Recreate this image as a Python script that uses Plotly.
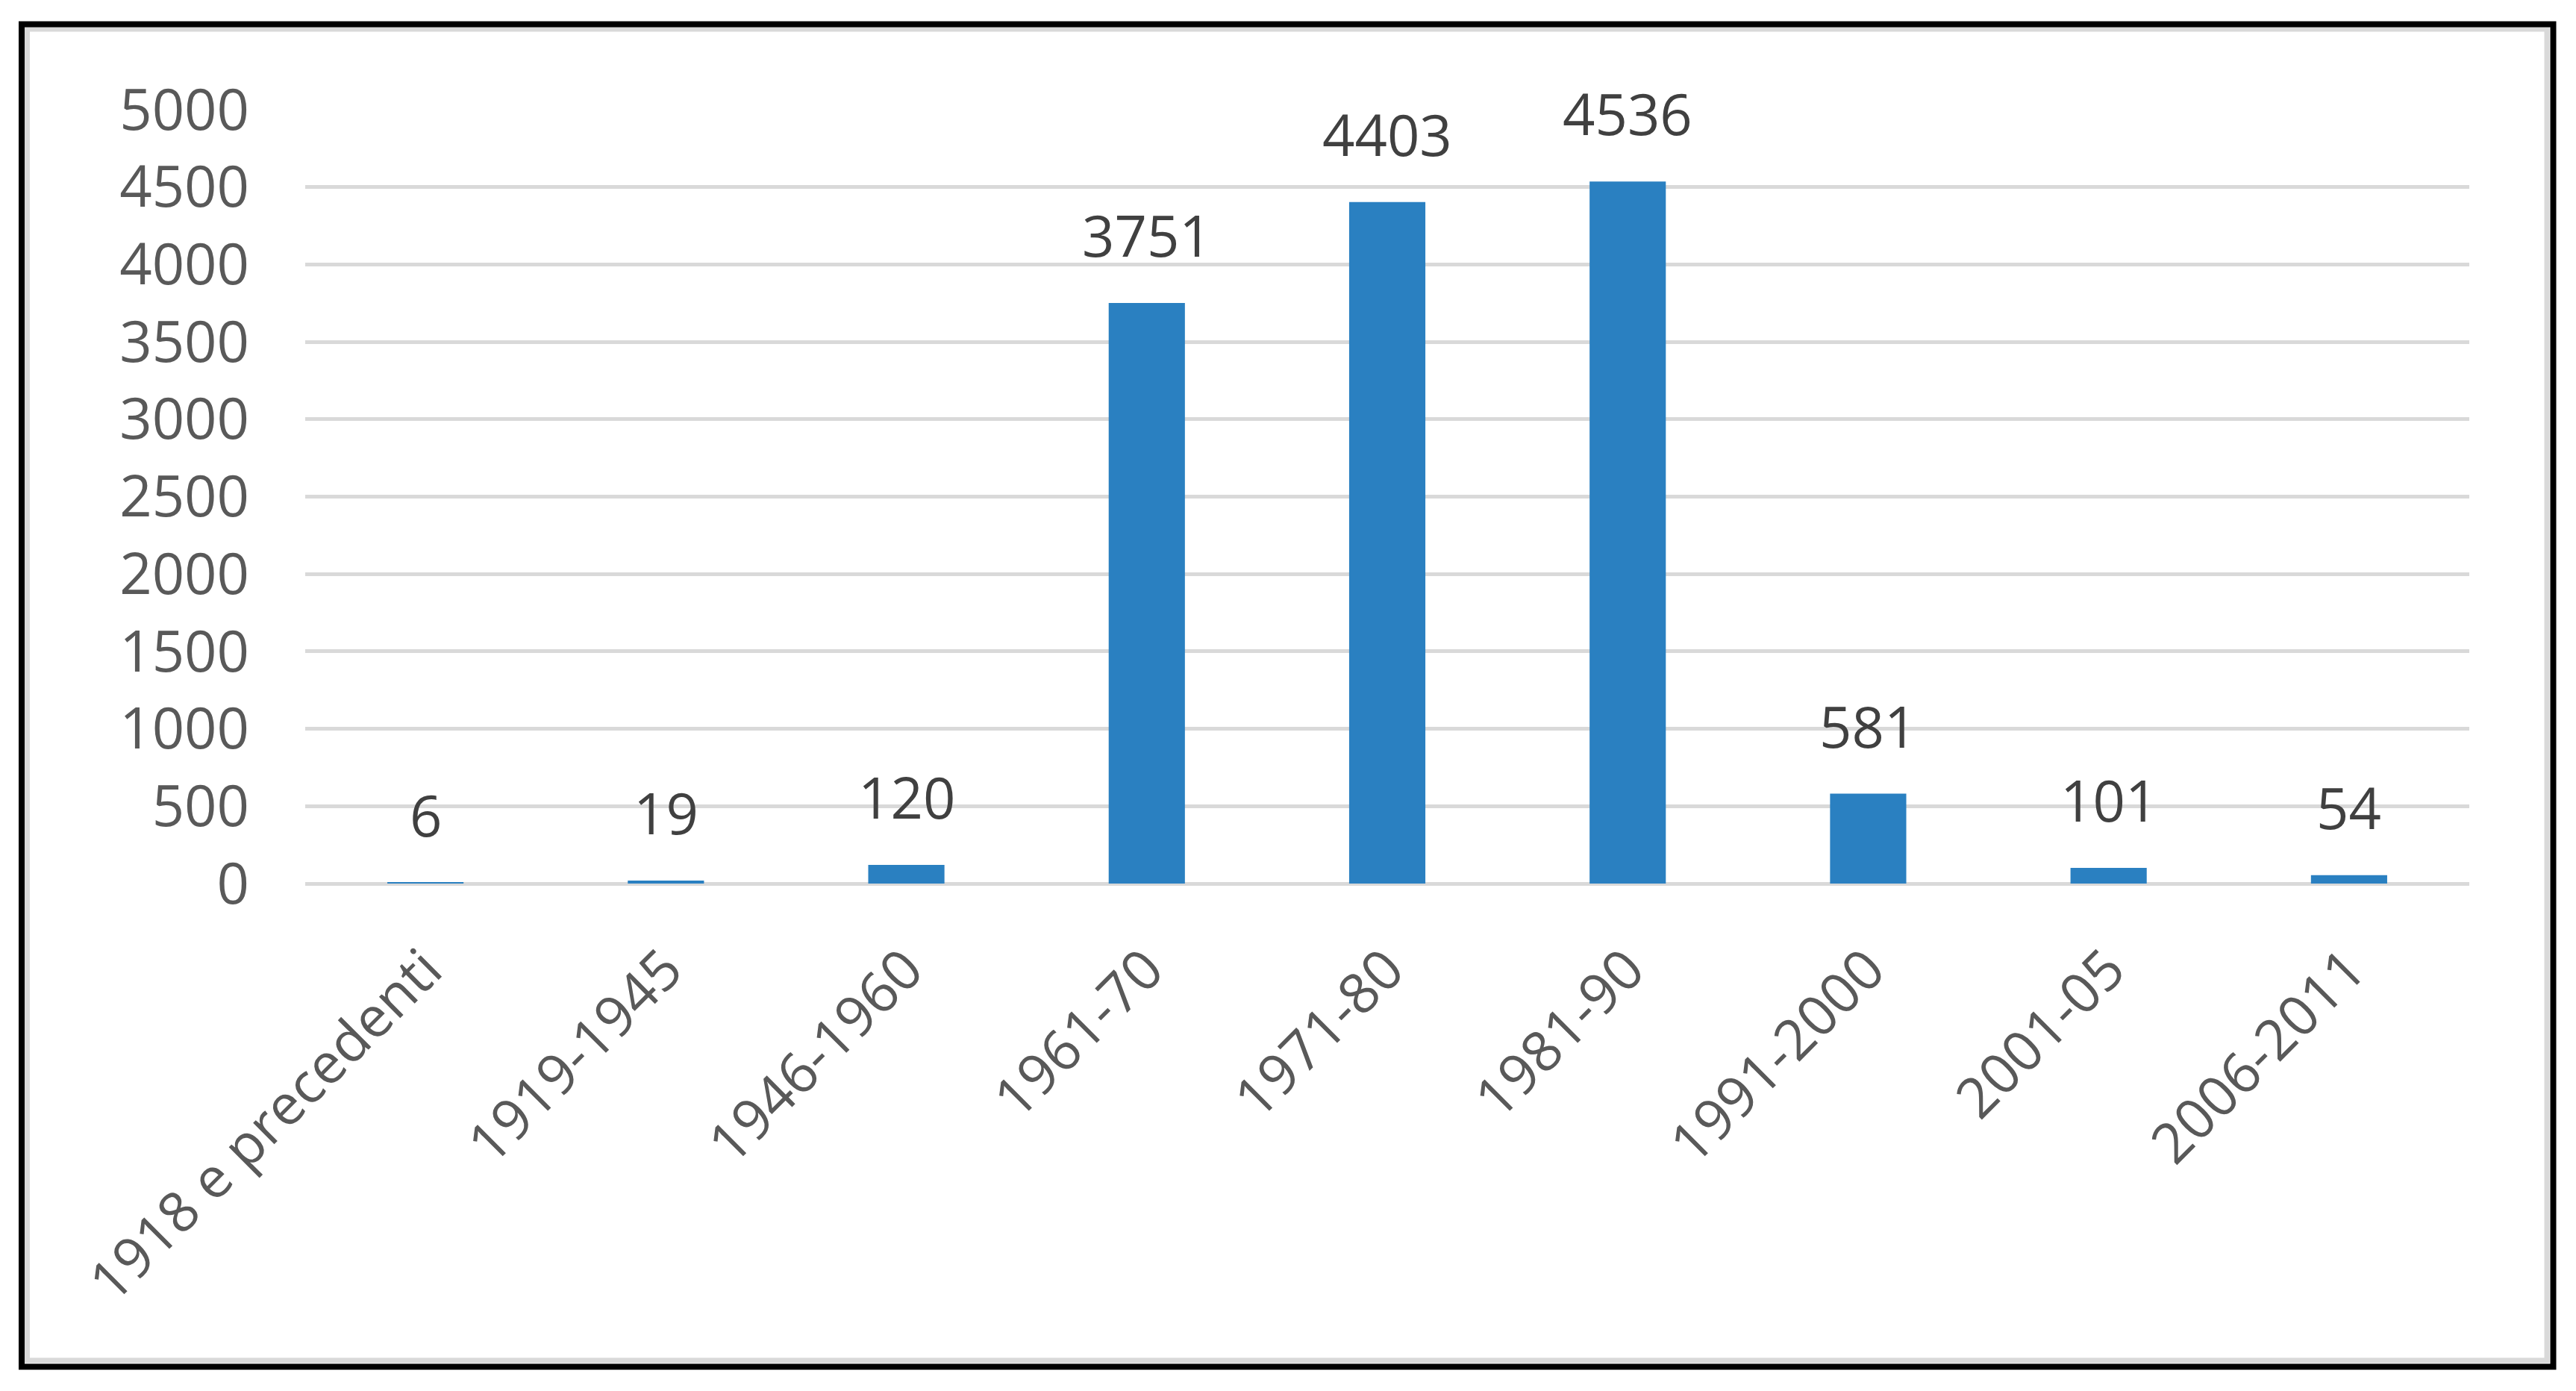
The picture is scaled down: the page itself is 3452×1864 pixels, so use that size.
import plotly.graph_objects as go

categories = ["1918 e precedenti", "1919-1945", "1946-1960", "1961-70", "1971-80",
              "1981-90", "1991-2000", "2001-05", "2006-2011"]
values = [6, 19, 120, 3751, 4403, 4536, 581, 101, 54]
y_ticks = [0, 500, 1000, 1500, 2000, 2500, 3000, 3500, 4000, 4500, 5000]

W, H = 3452, 1864
L, R, T, B = 409, W - 3309, 147, H - 1184
PW, PH = W - L - R, H - T - B

def px(x):
    return (x - L) / PW

def py(y):
    return (H - B - y) / PH

FONT = "Open Sans, Segoe UI, Noto Sans, sans-serif"

fig = go.Figure()
fig.add_trace(go.Bar(
    x=categories, y=values,
    marker=dict(color="#2A80C1", line=dict(width=0)),
    hoverinfo="x+y",
))

for c, v in zip(categories, values):
    fig.add_annotation(x=c, y=v, text=str(v), showarrow=False,
                       yanchor="bottom", xanchor="center", yshift=38,
                       font=dict(family=FONT, size=76, color="#404040"))

shapes = [
    dict(type="rect", xref="paper", yref="paper",
         x0=px(36.5), x1=px(3413), y0=py(1823), y1=py(39),
         line=dict(color="#d9d9d9", width=7), fillcolor="rgba(0,0,0,0)", layer="above"),
    dict(type="rect", xref="paper", yref="paper",
         x0=px(29), x1=px(3421.5), y0=py(1831.5), y1=py(32.5),
         line=dict(color="#000000", width=8), fillcolor="rgba(0,0,0,0)", layer="above"),
]

fig.update_layout(
    width=W, height=H,
    margin=dict(l=L, r=R, t=T, b=B, pad=0),
    paper_bgcolor="white", plot_bgcolor="white",
    bargap=0.683,
    showlegend=False,
    shapes=shapes,
    font=dict(family=FONT, color="#595959"),
    xaxis=dict(
        type="category", tickangle=-45, showgrid=False, showline=False,
        ticks="", ticklabelstandoff=55,
        tickfont=dict(family=FONT, size=75, color="#595959"),
    ),
    yaxis=dict(
        range=[0, 5000], tickvals=y_ticks, ticktext=[str(t) for t in y_ticks],
        showgrid=True, gridcolor="#d9d9d9", gridwidth=5,
        zeroline=True, zerolinecolor="#d9d9d9", zerolinewidth=5,
        showline=False, ticks="", ticklabelstandoff=74,
        tickfont=dict(family=FONT, size=76, color="#595959"),
    ),
)

fig.write_html("out.html", config={"displayModeBar": False},
               post_script="document.body.style.margin='0';document.body.style.overflow='hidden';")
